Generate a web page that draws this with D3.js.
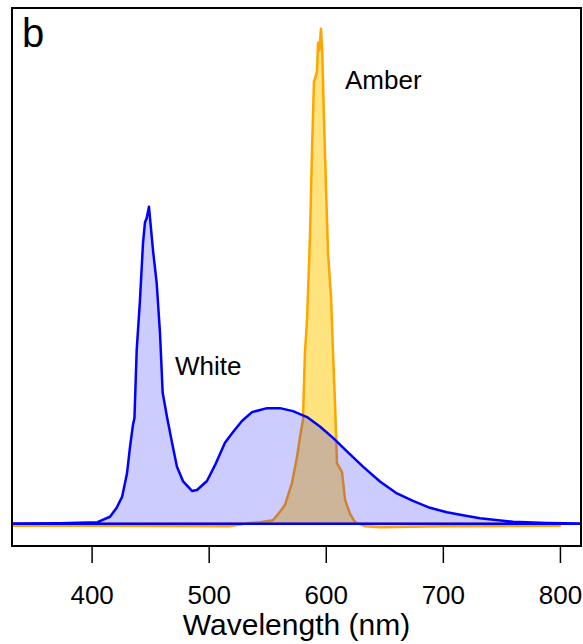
<!DOCTYPE html>
<html>
<head>
<meta charset="utf-8">
<script src="https://cdn.jsdelivr.net/npm/d3@7"></script>
<style>
  html, body { margin: 0; padding: 0; background: #fff; }
  svg { display: block; }
  text { font-family: "Liberation Sans", Arial, sans-serif; fill: #000; }
</style>
</head>
<body>
<div id="chart"></div>
<script>
// ---- data (wavelength nm, relative intensity) ----
const whiteWavelength = [320, 373, 405, 415.7, 421.4, 426, 430.2, 432.8, 435.3, 436.6, 438.5, 441.3, 443.9, 445.6, 447, 448.2, 449, 449.9, 452.4, 455.6, 458.4, 460.7, 464.4, 468.7, 472.9, 478, 485.7, 490, 498.5, 505.4, 513.9, 520.8, 528.4, 537, 549.8, 560.9, 572, 584, 595, 606.2, 618.1, 631.8, 646.3, 660.8, 674.5, 689, 703.5, 717.2, 731.7, 759.9, 789, 830];
const whiteIntensity  = [0, 0.001, 0.003, 0.014, 0.032, 0.054, 0.101, 0.155, 0.199, 0.213, 0.350, 0.451, 0.566, 0.608, 0.616, 0.630, 0.639, 0.616, 0.552, 0.485, 0.385, 0.264, 0.215, 0.163, 0.115, 0.086, 0.066, 0.068, 0.086, 0.118, 0.163, 0.185, 0.207, 0.225, 0.233, 0.233, 0.227, 0.215, 0.196, 0.173, 0.146, 0.115, 0.085, 0.061, 0.046, 0.032, 0.023, 0.017, 0.011, 0.004, 0.0015, 0];

const amberWavelength = [320, 400, 518.2, 532.7, 543.8, 554.9, 560.9, 565.2, 571.1, 575.4, 578, 580.5, 582.2, 584, 586.5, 588.2, 589.9, 592.5, 593.4, 594.5, 595.9, 597, 598.5, 600.2, 601.9, 604.5, 606.2, 607.9, 609.6, 613.9, 616.5, 620.7, 625, 633.5, 646.3, 700, 800];
const amberIntensity  = [-0.004, -0.004, -0.005, 0.001, 0.003, 0.007, 0.024, 0.038, 0.082, 0.134, 0.175, 0.209, 0.344, 0.411, 0.578, 0.748, 0.891, 0.911, 0.970, 0.955, 0.998, 0.950, 0.814, 0.679, 0.546, 0.457, 0.344, 0.243, 0.122, 0.104, 0.048, 0.020, 0.003, -0.005, -0.007, -0.005, -0.004];

const xTicks = [400, 500, 600, 700, 800];
const xLabel = "Wavelength (nm)";
const panelLabel = "b";
const seriesLabels = ["White", "Amber"];

// ---- layout ----
const W = 583, H = 644;
const mLeft = 12, mRight = 581, mTop = 8, mBottom = 546;

const svg = d3.select("#chart").append("svg").attr("width", W).attr("height", H);

const x = d3.scaleLinear().domain([332, 818]).range([mLeft, mRight]);
const y = d3.scaleLinear().domain([-0.045, 1.04]).range([mBottom, mTop]);

svg.append("clipPath").attr("id", "plotclip")
  .append("rect").attr("x", mLeft).attr("y", mTop).attr("width", mRight - mLeft).attr("height", mBottom - mTop);

const g = svg.append("g").attr("clip-path", "url(#plotclip)");

const amber = amberWavelength.map((w, i) => [w, amberIntensity[i]]);
const white = whiteWavelength.map((w, i) => [w, whiteIntensity[i]]);

const area = d3.area().x(d => x(d[0])).y0(y(0)).y1(d => y(d[1]));

g.append("path").datum(amber).attr("d", area)
  .attr("fill", "rgba(255,200,0,0.5)")
  .attr("stroke", "#FFA500").attr("stroke-width", 2.5).attr("stroke-linejoin", "round");

g.append("path").datum(white).attr("d", area)
  .attr("fill", "rgba(0,0,255,0.2)")
  .attr("stroke", "#0000FF").attr("stroke-width", 2.5).attr("stroke-linejoin", "round");

// frame
svg.append("rect").attr("x", mLeft).attr("y", mTop).attr("width", mRight - mLeft).attr("height", mBottom - mTop)
  .attr("fill", "none").attr("stroke", "#000").attr("stroke-width", 2);

// x axis
const axis = d3.axisBottom(x).tickValues(xTicks).tickSize(17).tickPadding(23).tickFormat(d3.format("d"));
const ax = svg.append("g").attr("transform", `translate(0,${mBottom})`).call(axis);
ax.select(".domain").remove();
ax.selectAll(".tick line").attr("stroke", "#000").attr("stroke-width", 1.5);
ax.selectAll(".tick text").attr("font-size", 26).attr("font-family", "Liberation Sans, Arial, sans-serif").attr("fill", "#000");

svg.append("text").attr("x", (mLeft + mRight) / 2).attr("y", 635)
  .attr("text-anchor", "middle").attr("font-size", 30).text(xLabel);

svg.append("text").attr("x", 22).attr("y", 47).attr("font-size", 40).text(panelLabel);
svg.append("text").attr("x", 175).attr("y", 375).attr("font-size", 26).text(seriesLabels[0]);
svg.append("text").attr("x", 345).attr("y", 89).attr("font-size", 26).text(seriesLabels[1]);
</script>
</body>
</html>
